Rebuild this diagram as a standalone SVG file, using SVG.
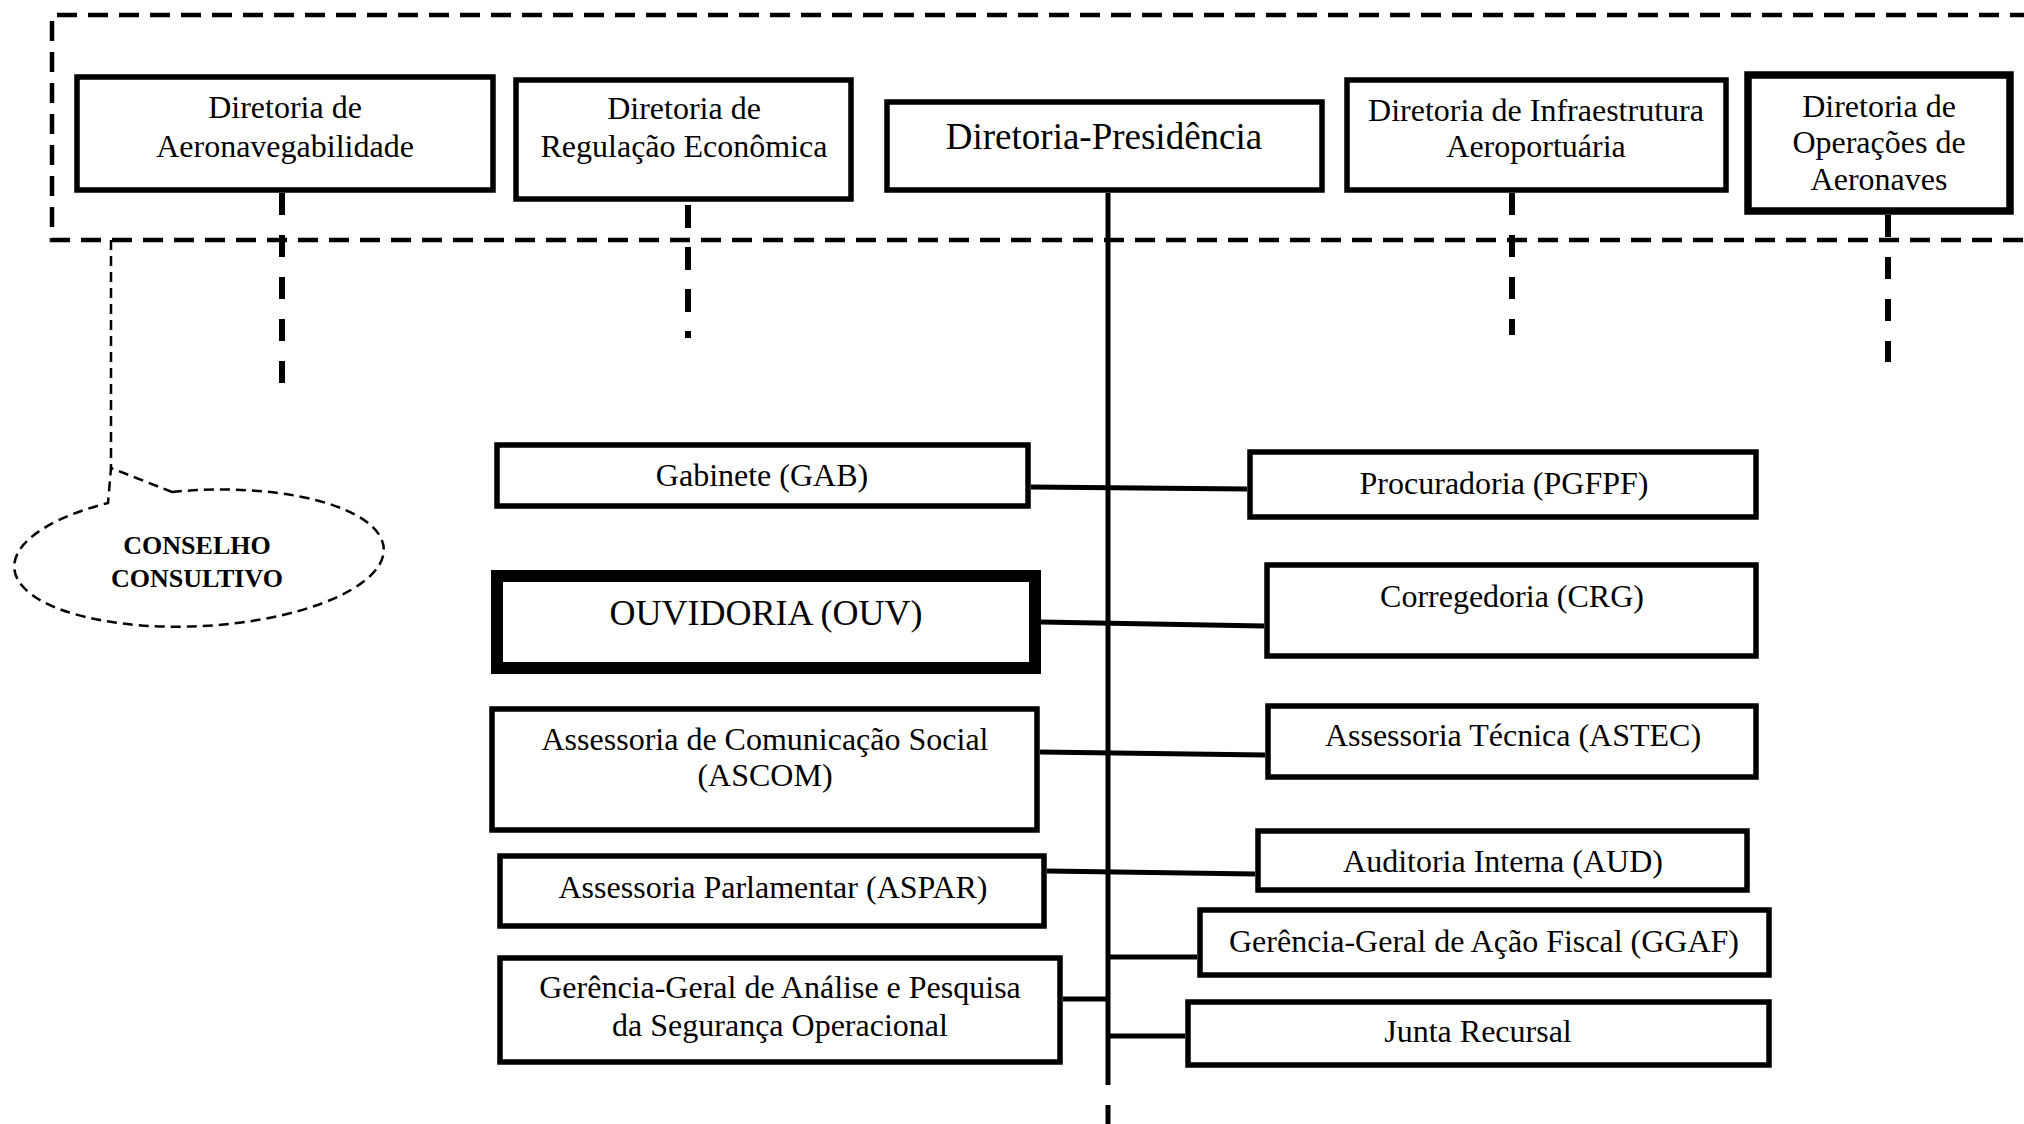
<svg xmlns="http://www.w3.org/2000/svg" width="2024" height="1124" viewBox="0 0 2024 1124">
  <style>
    text { font-family: "Liberation Serif", "Times New Roman", serif; font-size: 32px; fill: #000; text-anchor: middle; }
    .box { fill: #fff; stroke: #000; stroke-width: 5.5; }
    .thick { stroke-width: 7.5; }
    .heavy { stroke-width: 12; }
    .link { stroke: #000; stroke-width: 5; fill: none; }
    .dlink { stroke: #000; stroke-width: 6; fill: none; stroke-dasharray: 22 20; }
    .frame { stroke: #000; stroke-width: 4.5; fill: none; stroke-dasharray: 20 11; }
    .thin { stroke: #000; stroke-width: 2.5; fill: none; stroke-dasharray: 10 6; }
  </style>
  <rect width="2024" height="1124" fill="#fff"/>

  <!-- collegiate board frame (open on the right) -->
  <path id="board-frame" class="frame" d="M2030 15 H52 V240 H2030"/>

  <!-- connectors -->
  <g id="connectors">
    <line class="dlink" x1="282" y1="193" x2="282" y2="383"/>
    <line class="dlink" x1="688" y1="205" x2="688" y2="338" style="stroke-dasharray:23 19"/>
    <line class="dlink" x1="1512" y1="193" x2="1512" y2="335"/>
    <line class="dlink" x1="1888" y1="215" x2="1888" y2="362"/>
    <line class="link" x1="1108" y1="193" x2="1108" y2="1085"/>
    <line class="link" x1="1108" y1="1105" x2="1108" y2="1124"/>
    <line class="link" x1="1031" y1="487" x2="1247" y2="489"/>
    <line class="link" x1="1041" y1="622" x2="1264" y2="626"/>
    <line class="link" x1="1040" y1="752" x2="1265" y2="755"/>
    <line class="link" x1="1047" y1="871" x2="1255" y2="874"/>
    <line class="link" x1="1108" y1="957" x2="1197" y2="957"/>
    <line class="link" x1="1063" y1="999" x2="1108" y2="999"/>
    <line class="link" x1="1108" y1="1036" x2="1185" y2="1036"/>
    <line class="thin" x1="111" y1="240" x2="111" y2="468"/>
  </g>

  <!-- directorates -->
  <g id="dir-aeronavegabilidade">
    <rect class="box" x="77" y="77" width="416" height="113"/>
    <text x="285" y="118">Diretoria de</text>
    <text x="285" y="157">Aeronavegabilidade</text>
  </g>
  <g id="dir-regulacao">
    <rect class="box" x="516" y="80" width="335" height="119"/>
    <text x="684" y="119">Diretoria de</text>
    <text x="684" y="157">Regulação Econômica</text>
  </g>
  <g id="dir-presidencia">
    <rect class="box" x="887" y="102" width="435" height="88"/>
    <text x="1104" y="149" style="font-size:37px">Diretoria-Presidência</text>
  </g>
  <g id="dir-infraestrutura">
    <rect class="box" x="1347" y="80" width="379" height="110"/>
    <text x="1536" y="121">Diretoria de Infraestrutura</text>
    <text x="1536" y="157">Aeroportuária</text>
  </g>
  <g id="dir-operacoes">
    <rect class="box thick" x="1748" y="75" width="262" height="136"/>
    <text x="1879" y="117">Diretoria de</text>
    <text x="1879" y="153">Operações de</text>
    <text x="1879" y="190">Aeronaves</text>
  </g>

  <!-- advisory council callout -->
  <g id="conselho-consultivo">
    <path class="thin" d="M172 492 A185 68 -3 1 1 108 503 L111 468 Z"/>
    <text x="197" y="554" style="font-size:26px;font-weight:bold">CONSELHO</text>
    <text x="197" y="587" style="font-size:26px;font-weight:bold">CONSULTIVO</text>
  </g>

  <!-- units, left column -->
  <g id="gab">
    <rect class="box" x="497" y="445" width="531" height="61"/>
    <text x="762" y="486">Gabinete (GAB)</text>
  </g>
  <g id="ouv">
    <rect class="box heavy" x="497" y="576" width="538" height="92"/>
    <text x="766" y="625" style="font-size:36px">OUVIDORIA (OUV)</text>
  </g>
  <g id="ascom">
    <rect class="box" x="492" y="709" width="545" height="121"/>
    <text x="765" y="750">Assessoria de Comunicação Social</text>
    <text x="765" y="786">(ASCOM)</text>
  </g>
  <g id="aspar">
    <rect class="box" x="500" y="856" width="544" height="70"/>
    <text x="773" y="898">Assessoria Parlamentar (ASPAR)</text>
  </g>
  <g id="ggapso">
    <rect class="box" x="500" y="958" width="560" height="104"/>
    <text x="780" y="998">Gerência-Geral de Análise e Pesquisa</text>
    <text x="780" y="1036">da Segurança Operacional</text>
  </g>

  <!-- units, right column -->
  <g id="pgfpf">
    <rect class="box" x="1250" y="452" width="506" height="65"/>
    <text x="1504" y="494">Procuradoria (PGFPF)</text>
  </g>
  <g id="crg">
    <rect class="box" x="1267" y="565" width="489" height="91"/>
    <text x="1512" y="607">Corregedoria (CRG)</text>
  </g>
  <g id="astec">
    <rect class="box" x="1268" y="706" width="488" height="71"/>
    <text x="1513" y="746">Assessoria Técnica (ASTEC)</text>
  </g>
  <g id="aud">
    <rect class="box" x="1258" y="831" width="489" height="59"/>
    <text x="1503" y="872">Auditoria Interna (AUD)</text>
  </g>
  <g id="ggaf">
    <rect class="box" x="1200" y="910" width="569" height="65"/>
    <text x="1484" y="952">Gerência-Geral de Ação Fiscal (GGAF)</text>
  </g>
  <g id="junta">
    <rect class="box" x="1188" y="1002" width="581" height="63"/>
    <text x="1478" y="1042">Junta Recursal</text>
  </g>
</svg>
